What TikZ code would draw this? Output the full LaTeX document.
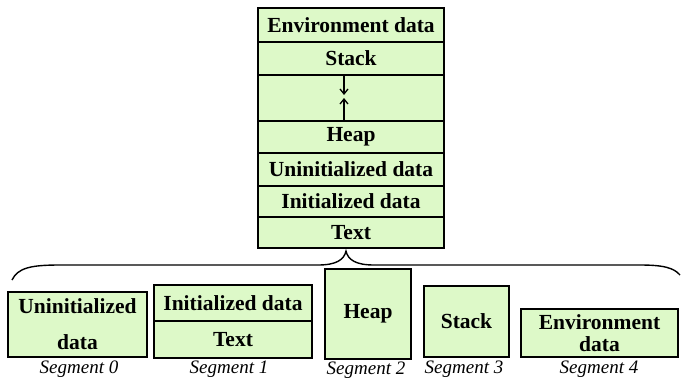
\documentclass[tikz,border=0pt]{standalone}
\usepackage{fontspec}
\setmainfont{Liberation Serif}
\usetikzlibrary{arrows.meta}
\definecolor{segfill}{RGB}{221,249,200}
\tikzset{
  memrow/.style={draw, line width=1.6pt, fill=segfill, inner sep=0pt,
    minimum width=#1, font=\fontsize{21.5}{25}\selectfont\bfseries},
  segbox/.style={draw, line width=1.6pt, fill=segfill, inner sep=0pt, align=center,
    font=\fontsize{21.5}{25}\selectfont\bfseries},
  seglabel/.style={font=\fontsize{19}{22}\selectfont\itshape},
  growarrow/.style={-{Straight Barb[length=5pt,width=8pt]}, line width=1.3pt}
}
\begin{document}
\begin{tikzpicture}[x=1pt, y=-1pt]
\useasboundingbox (0,0) rectangle (681,378);

% process memory image
\node[memrow=186, minimum height=34] (env) at (351,25) {Environment data};
\node[memrow=186, minimum height=33] (stack) at (351,58.5) {Stack};
\node[memrow=186, minimum height=46] (gap) at (351,98) {};
\node[memrow=186, minimum height=32] (heap) at (351,137) {Heap};
\node[memrow=186, minimum height=33] (uninit) at (351,169.5) {Uninitialized data};
\node[memrow=186, minimum height=31] (init) at (351,201.5) {Initialized data};
\node[memrow=186, minimum height=31] (text) at (351,232.5) {Text};

\coordinate (down) at (344,95);
\coordinate (up) at (344,98);
\draw[growarrow] (stack.south -| down) -- (down);
\draw[growarrow] (heap.north -| up) -- (up);

% brace
\draw[line width=1.4pt] (12,280) .. controls (18,268) and (30,265) .. (60,265)
  -- (318,265) .. controls (336,265) and (344,260) .. (346,251)
  .. controls (348,260) and (356,265) .. (374,265)
  -- (640,265) .. controls (664,265) and (674,268) .. (680,275);

% segments
\node[segbox, minimum width=139, minimum height=65] (seg0) at (77.5,324.5) {Uninitialized\\[11pt]data};
\node[segbox, minimum width=158, minimum height=36] (seg1a) at (233,303) {Initialized data};
\node[segbox, minimum width=158, minimum height=37] (seg1b) at (233,339.5) {Text};
\node[segbox, minimum width=86, minimum height=90] (seg2) at (368,314) {Heap};
\node[segbox, minimum width=85, minimum height=71] (seg3) at (466.5,321.5) {Stack};
\node[segbox, minimum width=157, minimum height=48] (seg4) at (599.5,333) {Environment\\[-3pt]data};

\node[seglabel] (lab0) at (79,369) {Segment 0};
\node[seglabel] (lab1) at (229,369) {Segment 1};
\node[seglabel] (lab2) at (366,370) {Segment 2};
\node[seglabel] (lab3) at (464,369) {Segment 3};
\node[seglabel] (lab4) at (599,369) {Segment 4};
\end{tikzpicture}
\end{document}
